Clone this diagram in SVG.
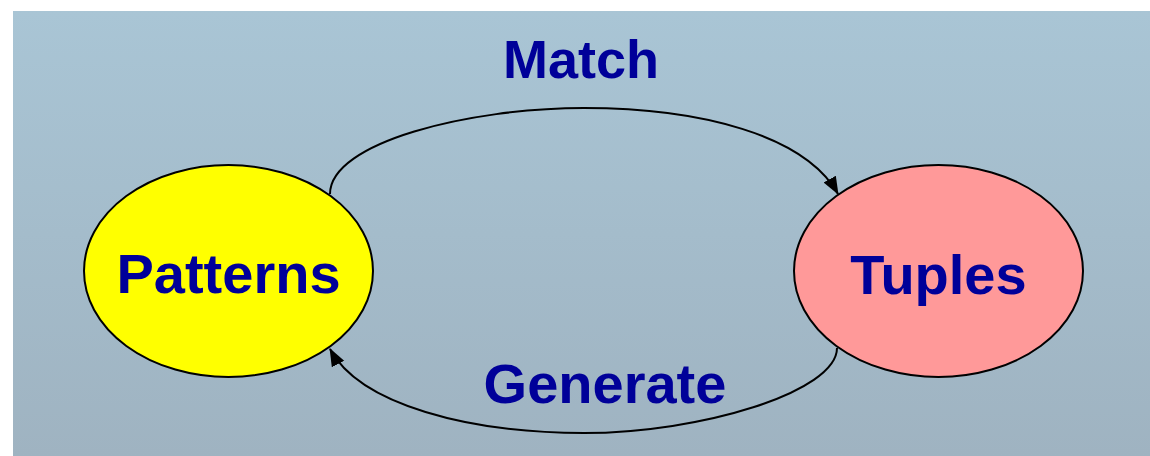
<svg xmlns="http://www.w3.org/2000/svg" width="1150" height="456" viewBox="0 0 1150 456">
  <defs>
    <linearGradient id="bg" x1="0" y1="0" x2="0" y2="1">
      <stop offset="0" stop-color="#a9c5d5"/>
      <stop offset="1" stop-color="#9fb3c1"/>
    </linearGradient>
    <marker id="arrow" markerUnits="userSpaceOnUse" markerWidth="20" markerHeight="16" refX="17" refY="7" orient="auto">
      <path d="M0,0 L18,7 L0,14 Z" fill="#000"/>
    </marker>
  </defs>
  <style>
    .node { stroke: #000; stroke-width: 2; }
    .label { font-family: "Liberation Sans", Arial, sans-serif; font-weight: bold; fill: #000099; text-anchor: middle; }
    .edge { fill: none; stroke: #000; stroke-width: 2; marker-end: url(#arrow); }
  </style>

  <rect x="13" y="11" width="1137" height="445" fill="url(#bg)"/>

  <g id="connectors">
    <path id="edge-match" class="edge" d="M330,194 C330,142 470,108 584,108 C700,108 805,135 838,194"/>
    <path id="edge-generate" class="edge" d="M837,348 C837,392 700,433 584,433 C470,433 360,405 330,349"/>
    <text class="label" x="581" y="78" font-size="54">Match</text>
    <text class="label" x="605" y="403" font-size="56">Generate</text>
  </g>

  <g id="patterns">
    <ellipse class="node" cx="228.5" cy="271" rx="144.5" ry="106" fill="#ffff00"/>
    <text class="label" x="228.5" y="293" font-size="56">Patterns</text>
  </g>

  <g id="tuples">
    <ellipse class="node" cx="938.5" cy="271" rx="144.5" ry="106" fill="#ff9999"/>
    <text class="label" x="938.5" y="294" font-size="56">Tuples</text>
  </g>
</svg>
